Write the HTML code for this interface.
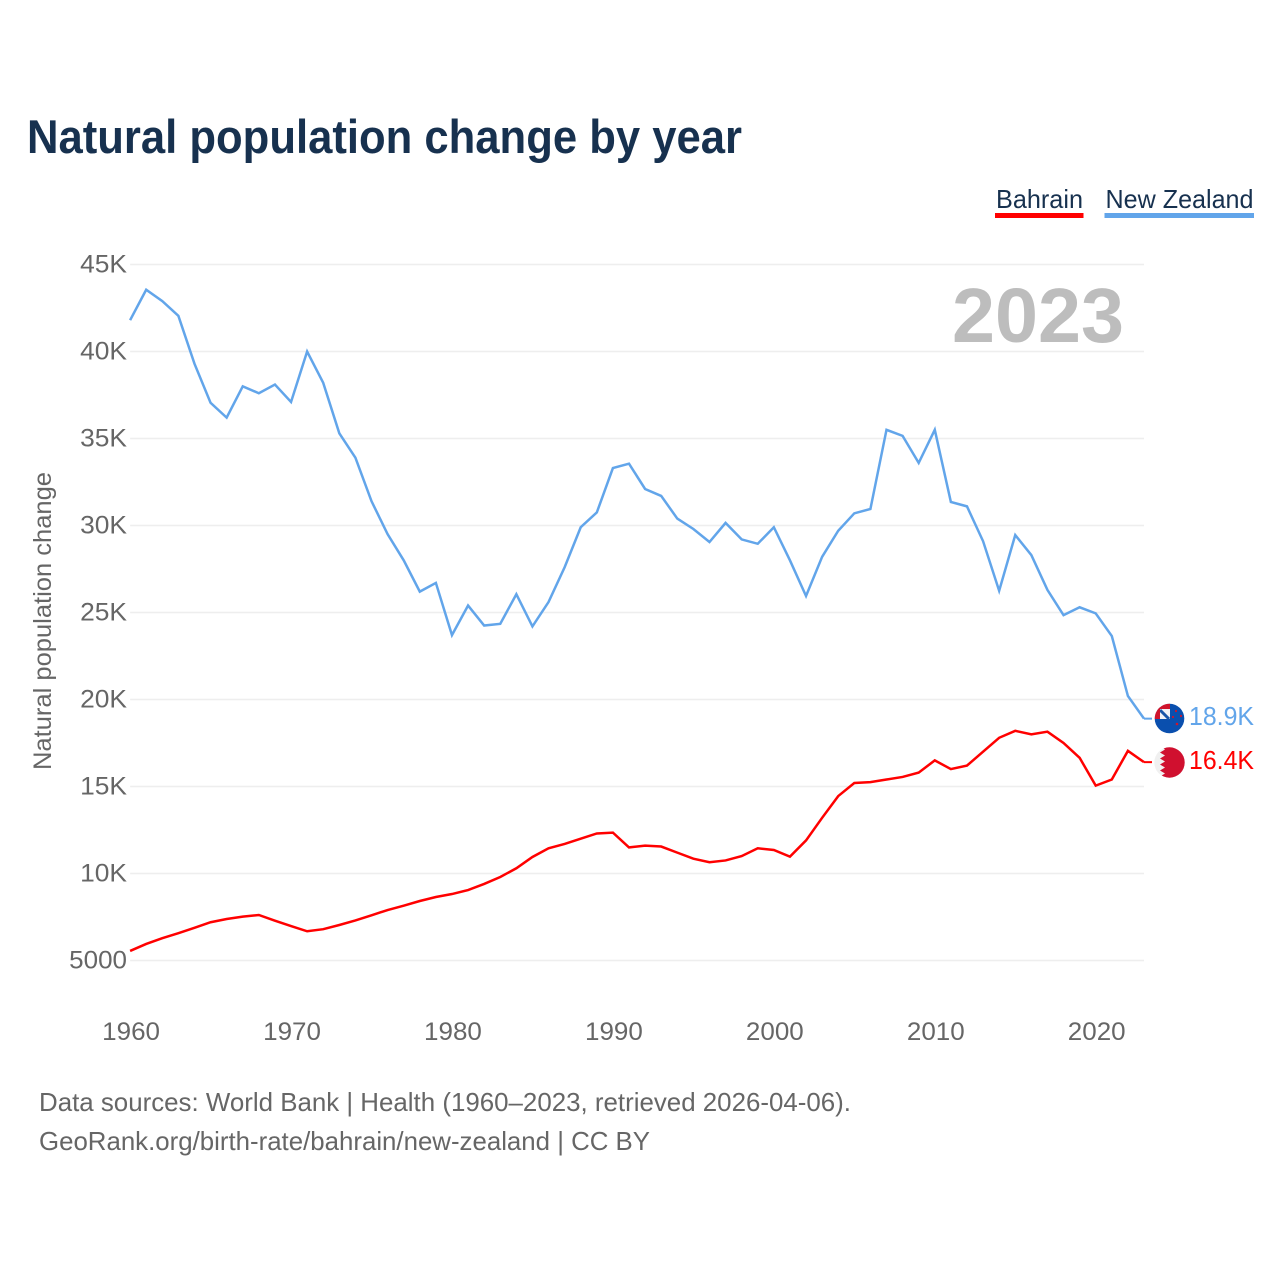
<!DOCTYPE html>
<html lang="en">
<head>
<meta charset="utf-8">
<title>Natural population change by year</title>
<style>
html,body{margin:0;padding:0;background:#fff;}
svg{display:block;font-family:"Liberation Sans",sans-serif;}
</style>
</head>
<body>
<svg id="chart" xmlns="http://www.w3.org/2000/svg" width="1280" height="1280" viewBox="0 0 1280 1280">
  <defs>
    <clipPath id="nz-clip"><circle cx="1169.5" cy="718.5" r="14.8"/></clipPath>
    <clipPath id="bh-clip"><circle cx="1169.5" cy="762.5" r="15.2"/></clipPath>
  </defs>
  <rect width="1280" height="1280" fill="#fff"/>
  <text x="27" y="153" font-size="47" font-weight="700" fill="#17314f" textLength="715" lengthAdjust="spacingAndGlyphs">Natural population change by year</text>

  <g>
    <text x="996" y="208" font-size="26" fill="#17314f" textLength="87" lengthAdjust="spacingAndGlyphs">Bahrain</text>
    <rect x="995" y="213" width="88.5" height="5" fill="#ff0000"/>
  </g>
  <g>
    <text x="1105.5" y="208" font-size="26" fill="#17314f" textLength="148" lengthAdjust="spacingAndGlyphs">New Zealand</text>
    <rect x="1104.5" y="213" width="149.5" height="5" fill="#62a5ea"/>
  </g>

  <g id="grid"></g>
  <g id="y-ticks"></g>
  <g id="x-ticks"></g>

  <text transform="translate(51 621) rotate(-90)" text-anchor="middle" font-size="25" fill="#666" textLength="298" lengthAdjust="spacingAndGlyphs">Natural population change</text>
  <text id="year-label" x="1124" y="342" text-anchor="end" font-size="77" font-weight="700" fill="#bdbdbd" textLength="172" lengthAdjust="spacingAndGlyphs">2023</text>

  <path id="line-nz" fill="none" stroke="#62a5ea" stroke-width="2.5" stroke-linejoin="miter"/>
  <path id="line-bh" fill="none" stroke="#ff0000" stroke-width="2.5" stroke-linejoin="miter"/>

  <g id="end-lead-nz"></g>
  <g id="end-lead-bh"></g>

  <g clip-path="url(#nz-clip)">
    <rect x="1154" y="703" width="32" height="32" fill="#0a4fae"/>
    <rect x="1154" y="703" width="16" height="16" fill="#f2f2f6"/>
    <path d="M1160 710L1169 719" stroke="#1a55a8" stroke-width="3"/>
    <path d="M1154 703h16v6h-10v10h-6z" fill="#d0142c"/>
    <circle cx="1176" cy="711" r="1.1" fill="#d0142c"/>
    <circle cx="1181" cy="716" r="1.1" fill="#d0142c"/>
    <circle cx="1173" cy="717" r="1.1" fill="#d0142c"/>
    <circle cx="1177" cy="724" r="1.3" fill="#d0142c"/>
  </g>
  <g clip-path="url(#bh-clip)">
    <rect x="1154" y="746" width="32" height="34" fill="#f0f0f0"/>
    <path d="M1186 746H1160l5 3.5-5 3 5 3-5 3 5 3-5 3 5 3-5 3 5 3-5 3 5 3-5 1h26z" fill="#d0102f"/>
  </g>

  <text id="value-nz" x="1189" y="725" font-size="26" fill="#62a5ea" textLength="65" lengthAdjust="spacingAndGlyphs">18.9K</text>
  <text id="value-bh" x="1189" y="769" font-size="26" fill="#ff0000" textLength="65" lengthAdjust="spacingAndGlyphs">16.4K</text>

  <text x="39" y="1111" font-size="26" fill="#666" textLength="812" lengthAdjust="spacingAndGlyphs">Data sources: World Bank | Health (1960–2023, retrieved 2026-04-06).</text>
  <text x="39" y="1150" font-size="26" fill="#666" textLength="611" lengthAdjust="spacingAndGlyphs">GeoRank.org/birth-rate/bahrain/new-zealand | CC BY</text>
</svg>
<script>
const firstYear = 1960;
const newZealand = [41800,43550,42900,42050,39300,37050,36200,38000,37600,38100,37100,40000,38200,35300,33900,31400,29500,28000,26200,26700,23700,25400,24250,24350,26050,24200,25600,27600,29900,30750,33300,33550,32100,31700,30400,29800,29050,30150,29200,28950,29900,28000,25950,28200,29700,30700,30950,35500,35150,33600,35500,31350,31100,29100,26250,29450,28300,26300,24850,25300,24950,23650,20200,18900];
const bahrain = [5550,5950,6280,6570,6880,7200,7385,7520,7615,7290,6980,6680,6800,7040,7300,7600,7900,8150,8420,8650,8820,9050,9400,9800,10300,10950,11450,11700,12000,12300,12350,11500,11600,11550,11200,10850,10650,10750,11000,11450,11350,10970,11900,13200,14450,15200,15250,15400,15550,15800,16500,16000,16200,17000,17800,18200,18000,18150,17500,16650,15050,15400,17050,16400];
const yTickValues = [5000,10000,15000,20000,25000,30000,35000,40000,45000];
const yTickLabels = ["5000","10K","15K","20K","25K","30K","35K","40K","45K"];
const xTickYears = [1960,1970,1980,1990,2000,2010,2020];

const NS = "http://www.w3.org/2000/svg";
const PLOT = {left:130.1, right:1144, top:264.5, bottom:960.5};
function xScale(year){
  return PLOT.left + (year - 1960) * (PLOT.right - PLOT.left) / (2023 - 1960);
}
function yScale(v){
  return PLOT.bottom - (v - 5000) * (PLOT.bottom - PLOT.top) / (45000 - 5000);
}
function linePath(values){
  return values.map(function(v,i){
    return (i ? "L" : "M") + xScale(firstYear + i).toFixed(2) + " " + yScale(v).toFixed(2);
  }).join("");
}
function fmtK(v){
  return (v/1000).toFixed(1) + "K";
}
function labelWidth(s){
  return s.replace("K","").length * 14.45 + (s.indexOf("K") >= 0 ? 18 : 0);
}

const grid = document.getElementById("grid");
const yTicks = document.getElementById("y-ticks");
const xTicks = document.getElementById("x-ticks");

yTickValues.forEach(function(v,i){
  const line = document.createElementNS(NS,"line");
  
  
  line.setAttribute("x1", PLOT.left);
  line.setAttribute("x2", PLOT.right);
  line.setAttribute("y1", yScale(v));
  line.setAttribute("y2", yScale(v));
  line.setAttribute("stroke", "#eeeeee");
  line.setAttribute("stroke-width", "1.6");
  grid.appendChild(line);

  const t = document.createElementNS(NS,"text");
  
  
  t.setAttribute("x", 127);
  t.setAttribute("y", yScale(v) + 8);
  t.setAttribute("text-anchor", "end");
  t.setAttribute("font-size", "25");
  t.setAttribute("fill", "#666");
  t.setAttribute("textLength", labelWidth(yTickLabels[i]));
  t.setAttribute("lengthAdjust", "spacingAndGlyphs");
  t.textContent = yTickLabels[i];
  yTicks.appendChild(t);
});

xTickYears.forEach(function(y){
  const t = document.createElementNS(NS,"text");
  
  
  t.setAttribute("x", xScale(y) + 1);
  t.setAttribute("y", 1040);
  t.setAttribute("text-anchor", "middle");
  t.setAttribute("font-size", "25");
  t.setAttribute("fill", "#666");
  t.setAttribute("textLength", labelWidth(String(y)));
  t.setAttribute("lengthAdjust", "spacingAndGlyphs");
  t.textContent = String(y);
  xTicks.appendChild(t);
});

document.getElementById("line-nz").setAttribute("d", linePath(newZealand));
document.getElementById("line-bh").setAttribute("d", linePath(bahrain));

const nzLast = newZealand[newZealand.length - 1];
const bhLast = bahrain[bahrain.length - 1];

const leadNz = document.createElementNS(NS,"line");


leadNz.setAttribute("x1", PLOT.right);
leadNz.setAttribute("x2", PLOT.right + 8);
leadNz.setAttribute("y1", yScale(nzLast));
leadNz.setAttribute("y2", yScale(nzLast));
leadNz.setAttribute("stroke", "#62a5ea");
leadNz.setAttribute("stroke-width", "2");
document.getElementById("end-lead-nz").appendChild(leadNz);

const leadBh = document.createElementNS(NS,"line");


leadBh.setAttribute("x1", PLOT.right);
leadBh.setAttribute("x2", PLOT.right + 8);
leadBh.setAttribute("y1", yScale(bhLast));
leadBh.setAttribute("y2", yScale(bhLast));
leadBh.setAttribute("stroke", "#ff0000");
leadBh.setAttribute("stroke-width", "2");
document.getElementById("end-lead-bh").appendChild(leadBh);

document.getElementById("value-nz").textContent = fmtK(nzLast);
document.getElementById("value-bh").textContent = fmtK(bhLast);
</script>
</body>
</html>
